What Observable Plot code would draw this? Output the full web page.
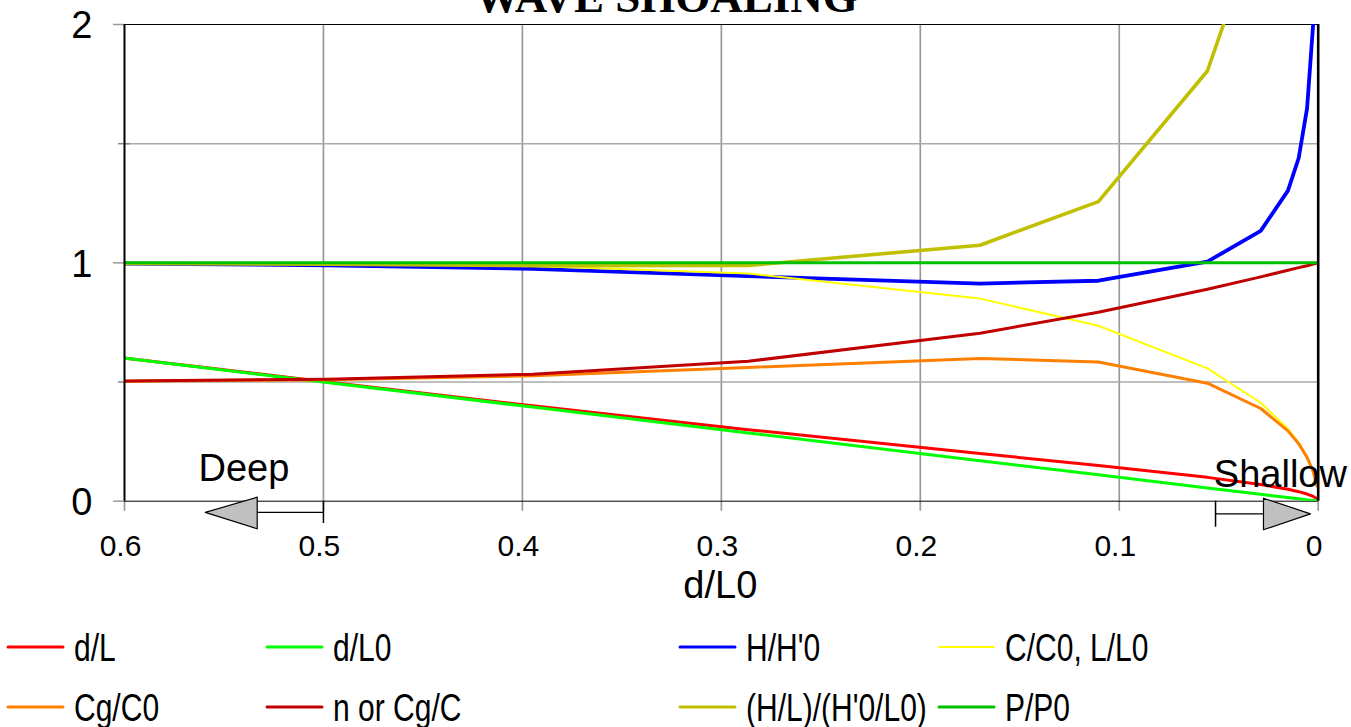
<!DOCTYPE html>
<html><head><meta charset="utf-8">
<script src="https://cdn.jsdelivr.net/npm/d3@7"></script>
<script src="https://cdn.jsdelivr.net/npm/@observablehq/plot@0.6"></script>
<style>
html,body{margin:0;padding:0;background:#fff;}
#chart{position:relative;width:1351px;height:727px;overflow:hidden;font-family:"Liberation Sans",Arial,sans-serif;}
#chart svg{display:block;}
</style></head><body><div id="chart"></div>
<script>
// ---- data ----
const dL0  = [0.5994, 0.4981, 0.3948, 0.2865, 0.1700, 0.1105, 0.0557, 0.0289, 0.0152, 0.0098, 0.0056, 0.0025, 0.0006];
const dL   = [0.600, 0.500, 0.400, 0.300, 0.200, 0.150, 0.100, 0.070, 0.050, 0.040, 0.030, 0.020, 0.010];
const HH0  = [0.997, 0.990, 0.975, 0.944, 0.913, 0.925, 1.005, 1.134, 1.303, 1.440, 1.648, 2.005, 2.825];
const CC0  = [0.999, 0.996, 0.987, 0.955, 0.850, 0.736, 0.557, 0.413, 0.304, 0.246, 0.186, 0.125, 0.063];
const CgC0 = [0.503, 0.510, 0.526, 0.561, 0.599, 0.584, 0.495, 0.389, 0.295, 0.241, 0.184, 0.124, 0.063];
const nCg  = [0.504, 0.512, 0.533, 0.587, 0.705, 0.793, 0.889, 0.941, 0.969, 0.980, 0.988, 0.995, 0.999];
const HL   = [0.998, 0.994, 0.988, 0.989, 1.074, 1.257, 1.805, 2.450, 4.280, 5.850, 8.850, 16.00, 45.00];
const PP0  = [1, 1, 1, 1, 1, 1, 1, 1, 1, 1, 1, 1, 1];

const seriesNames = ["d/L", "d/L0", "H/H'0", "C/C0, L/L0", "Cg/C0", "n or Cg/C", "(H/L)/(H'0/L0)", "P/P0"];
const seriesValues = [dL, dL0, HH0, CC0, CgC0, nCg, HL, PP0];

const xTicks = [0.6, 0.5, 0.4, 0.3, 0.2, 0.1, 0];
const xGrid = [0.5, 0.4, 0.3, 0.2, 0.1];
const yMajor = [0, 1, 2];
const yMinor = [0.5, 1.5];
const yGrid = [0.5, 1, 1.5];

// annotation arrows (data units)
const deepArrow = {label: "Deep", labelX: 0.540, tickX: 0.5, base: 0.5333, tip: 0.5594, top: 0.0168, bottom: -0.1158, mid: -0.0470, tickY2: -0.0936};
const shallowArrow = {label: "Shallow", labelX: 0.019, tickX: 0.0516, base: 0.0275, tip: 0.0039, top: 0.0126, bottom: -0.1200, mid: -0.0529, tickY2: -0.1090};

// ---- styles ----
const colors = ["#ff0000", "#00ff00", "#0000ff", "#ffff00", "#ff8000", "#c00000", "#c0c000", "#00c000"];
const widths = [3, 3, 3.8, 2, 3, 3, 3.6, 3];

const table = seriesNames.map((name, k) => dL0.map((x, i) => ({name, x, y: seriesValues[k][i]})));

const lineMarks = table.map((rows, k) =>
  Plot.line(rows, {x: "x", y: "y", stroke: colors[k], strokeWidth: widths[k], clip: true, strokeLinejoin: "round"}));

function arrowMarks(a) {
  const tri = [{x: a.base, y: a.top}, {x: a.tip, y: a.mid}, {x: a.base, y: a.bottom}, {x: a.base, y: a.top}];
  return [
    Plot.ruleX([a.tickX], {y1: 0, y2: a.tickY2, stroke: "black", strokeWidth: 1.5}),
    Plot.ruleY([a.mid], {x1: a.tickX, x2: a.base, stroke: "black", strokeWidth: 1.2}),
    Plot.line(tri, {x: "x", y: "y", fill: "#c0c0c0", stroke: "black", strokeWidth: 1.2})
  ];
}

const font = "'Liberation Sans', Arial, sans-serif";

const plot = Plot.plot({
  width: 1351, height: 620,
  marginLeft: 124, marginRight: 33.3, marginTop: 24, marginBottom: 119.3,
  x: {domain: [0.6, 0], axis: null},
  y: {domain: [0, 2], axis: null},
  style: {fontFamily: font, background: "white", color: "black"},
  marks: [
    Plot.ruleX(xGrid, {stroke: "#999", strokeWidth: 1.7}),
    Plot.ruleY(yGrid, {stroke: "#aaa", strokeWidth: 1.5}),
    // ticks below x axis
    Plot.ruleX(xTicks, {y1: 0, y2: -0.042, stroke: "#999", strokeWidth: 1.7}),
    // ticks left of y axis
    Plot.ruleY(yMajor, {x1: 0.6, x2: 0.6055, stroke: "#999", strokeWidth: 1.5}),
    Plot.ruleY(yMinor, {x1: 0.597, x2: 0.603, stroke: "#888", strokeWidth: 1.5}),
    // frame
    Plot.ruleY([0], {stroke: "black", strokeWidth: 1}),
    Plot.ruleY([2], {stroke: "black", strokeWidth: 1}),
    ...lineMarks,
    Plot.ruleX([0.6], {stroke: "black", strokeWidth: 2}),
    Plot.ruleX([0], {stroke: "black", strokeWidth: 2.6}),
    // tick labels
    Plot.text(xTicks, {x: d => d, y: 0, text: d => String(d), dy: 54.3, dx: -4, lineAnchor: "bottom", fontSize: 30, fill: "black"}),
    Plot.text(yMajor, {x: 0.6, y: d => d, text: d => String(d), dx: -32, dy: 1.5, textAnchor: "end", lineAnchor: "middle", fontSize: 38, fill: "black"}),
    // axis title
    Plot.text(["d/L0"], {frameAnchor: "bottom", dy: 97, dx: -1, lineAnchor: "bottom", fontSize: 38, fill: "black"}),
    // title
    Plot.text(["WAVE SHOALING"], {frameAnchor: "top", dy: -13, dx: -55, lineAnchor: "bottom", fontSize: 45, fontWeight: "bold", fontFamily: "'Liberation Serif', 'Times New Roman', serif", fill: "black"}),
    // Deep / Shallow annotations
    ...arrowMarks(deepArrow),
    ...arrowMarks(shallowArrow),
    Plot.text([deepArrow], {x: "labelX", y: 0, text: "label", dy: -20, lineAnchor: "bottom", fontSize: 38, fill: "black"}),
    Plot.text([shallowArrow], {x: "labelX", y: 0, text: "label", dy: -14, lineAnchor: "bottom", fontSize: 38, fill: "black"})
  ]
});

const chart = document.getElementById("chart");
chart.appendChild(plot);

// ---- legend (below the plot) ----
const legendCols = [8, 267, 680, 939];
const legendRows = [27, 87];
const legend = d3.create("svg").attr("width", 1351).attr("height", 107).style("display", "block");
seriesNames.forEach((name, k) => {
  const cx = legendCols[k % 4];
  const cy = legendRows[Math.floor(k / 4)];
  legend.append("line").attr("x1", cx).attr("x2", cx + 55).attr("y1", cy).attr("y2", cy)
    .attr("stroke", colors[k]).attr("stroke-width", k === 3 ? 2 : 3).attr("stroke-linecap", "round");
  legend.append("text").attr("transform", `translate(${cx + 66},${cy + 13.5}) scale(0.79,1)`)
    .attr("font-family", font).attr("font-size", 38).attr("fill", "black").text(name);
});
chart.appendChild(legend.node());
</script>
</body></html>
